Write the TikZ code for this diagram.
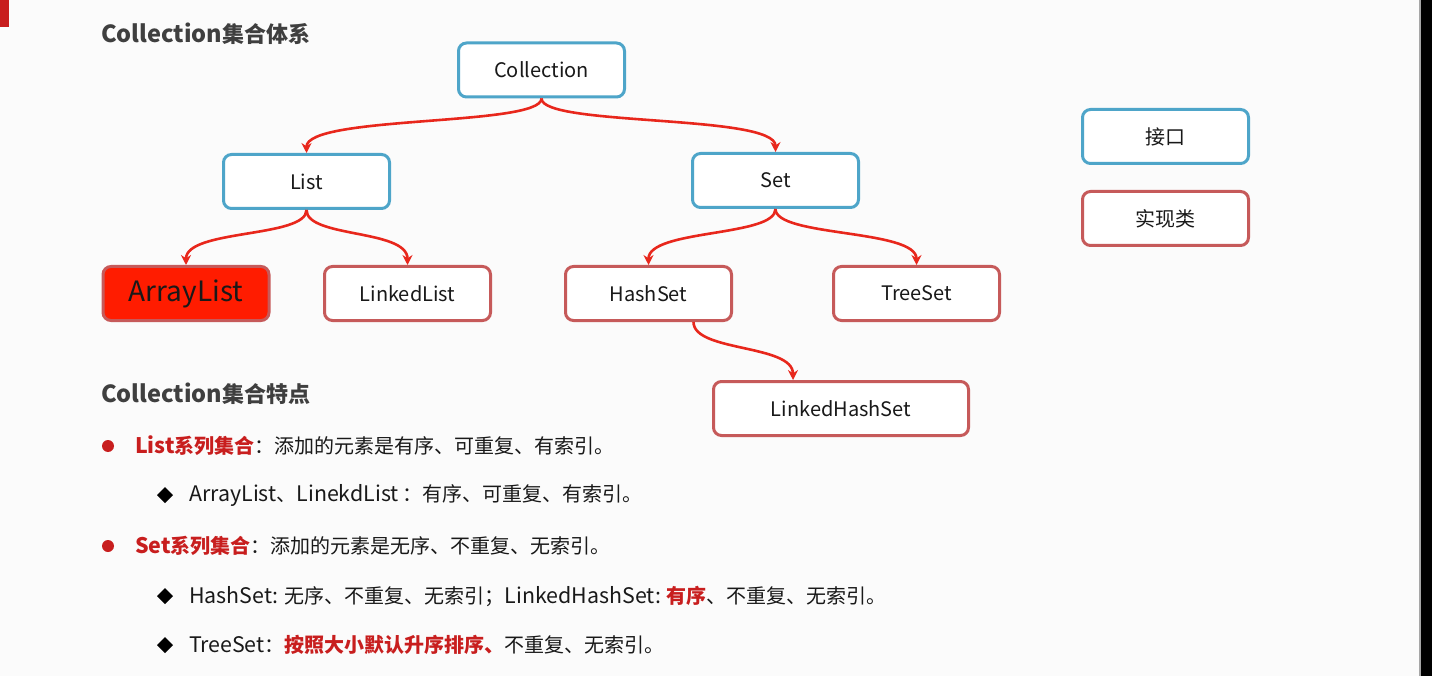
\documentclass[tikz,border=0pt]{standalone}
\usepackage{fontspec}
\setmainfont{Noto Sans CJK SC}
\newfontfamily\latf{Noto Sans CJK SC}[Scale=1.07]
\newcommand{\lat}[1]{{\latf #1}}
\usetikzlibrary{arrows.meta}
\definecolor{ifblue}{HTML}{4EA5C9}
\definecolor{imred}{HTML}{C65A5A}
\definecolor{arrred}{HTML}{E8271C}
\definecolor{alfill}{HTML}{FF1C00}
\definecolor{txtred}{HTML}{C81E1E}
\definecolor{hdgray}{HTML}{3F3F3F}
\definecolor{bg}{HTML}{FBFBFB}
\begin{document}
\begin{tikzpicture}[x=1pt,y=-1pt,
  box/.style={rectangle, rounded corners=8pt, line width=3pt, fill=white,
    minimum width=166pt, minimum height=54pt, inner sep=0pt,
    font=\fontsize{20}{24}\selectfont, text=black!90},
  iface/.style={box, draw=ifblue},
  impl/.style={box, draw=imred},
  conn/.style={draw=arrred, line width=2.6pt, -{Stealth[length=10pt,width=10pt]}},
  hdr/.style={anchor=west, inner sep=0pt, font=\fontsize{22}{26}\selectfont\bfseries, text=hdgray},
  body/.style={anchor=west, inner sep=0pt, font=\fontsize{20}{24}\selectfont, text=black!90}
]
\useasboundingbox (0,0) rectangle (1432,676);
\fill[bg] (0,0) rectangle (1432,676);
\fill[txtred] (0,0) rectangle (9,27);
\fill[black!35] (1419,0) rectangle (1421,676);
\fill[black] (1421,0) rectangle (1432,676);

\node[hdr] (h1) at (101,34) {\lat{Collection}集合体系};

\node[iface] (col) at (541.5,70) {Collection};
\node[iface] (list) at (306.5,181.5) {List};
\node[iface] (set) at (775.5,180.5) {Set};
\node[impl, fill=alfill, font=\fontsize{28}{32}\selectfont] (al) at (186,293.5) {ArrayList};
\node[impl] (ll) at (407.5,293.5) {LinkedList};
\node[impl] (hs) at (648.5,293.5) {HashSet};
\node[impl] (ts) at (916.5,293.5) {TreeSet};
\node[impl, minimum width=255pt] (lhs) at (841,408.5) {LinkedHashSet};
\node[iface] (k1) at (1165.5,136.5) {接口};
\node[impl] (k2) at (1165.5,218.5) {实现类};

\draw[conn] (col.south) .. controls +(0,28) and +(0,-38) .. (list.north);
\draw[conn] (col.south) .. controls +(0,28) and +(0,-38) .. (set.north);
\draw[conn] (list.south) .. controls +(0,28) and +(0,-36) .. (al.north);
\draw[conn] (list.south) .. controls +(0,28) and +(0,-36) .. (ll.north);
\draw[conn] (set.south) .. controls +(0,28) and +(0,-36) .. (hs.north);
\draw[conn] (set.south) .. controls +(0,28) and +(0,-36) .. (ts.north);
\draw[conn] ([xshift=45pt]hs.south) .. controls +(0,30) and +(0,-36) .. ([xshift=-48pt]lhs.north);

\node[hdr] (h2) at (101,394) {\lat{Collection}集合特点};

\fill[txtred] (108,446) circle (6pt);
\node[body] (l1) at (135,446) {\textcolor{txtred}{\bfseries \lat{List}系列集合}：添加的元素是有序、可重复、有索引。};

\fill[black] (165,487) -- (173,495) -- (165,503) -- (157,495) -- cycle;
\node[body] (l2) at (189,495) {\lat{ArrayList}、\lat{LinekdList}\,：有序、可重复、有索引。};

\fill[txtred] (108,546) circle (6pt);
\node[body] (l3) at (135,546) {\textcolor{txtred}{\bfseries \lat{Set}系列集合}：添加的元素是无序、不重复、无索引。};

\fill[black] (165,588) -- (173,596) -- (165,604) -- (157,596) -- cycle;
\node[body] (l4) at (189,596) {\lat{HashSet:} 无序、不重复、无索引；\lat{LinkedHashSet:} \textcolor{txtred}{\bfseries 有序}、不重复、无索引。};

\fill[black] (165,637) -- (173,645) -- (165,653) -- (157,645) -- cycle;
\node[body] (l5) at (189,645) {\lat{TreeSet}：\textcolor{txtred}{\bfseries 按照大小默认升序排序、}不重复、无索引。};
\end{tikzpicture}
\end{document}
